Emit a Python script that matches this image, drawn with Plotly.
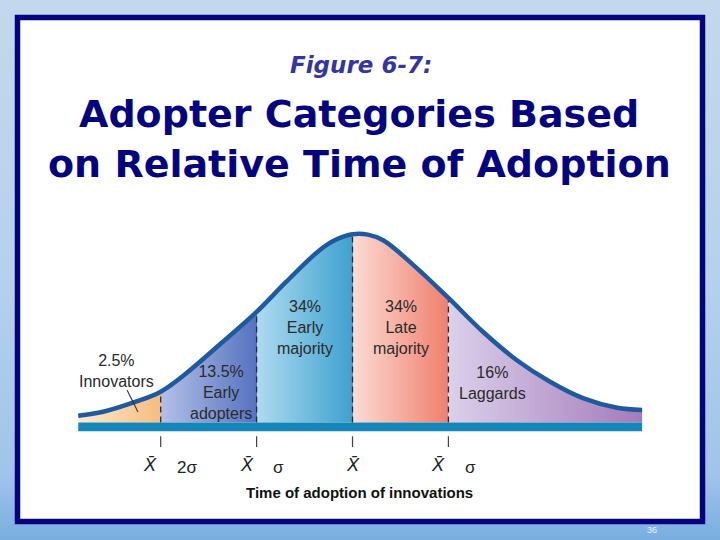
import plotly.graph_objects as go

# ---------------- data ----------------
categories = ["Innovators", "Early adopters", "Early majority", "Late majority", "Laggards"]
shares = ["2.5%", "13.5%", "34%", "34%", "16%"]
label_lines = [["Innovators"], ["Early", "adopters"], ["Early", "majority"], ["Late", "majority"], ["Laggards"]]
boundaries = [-2, -1, 0, 1]                       # in sigma units from the mean
# curve: position (sigma units) and relative height (peak = 100)
curve_z = [-2.86, -2.6, -2.26, -2.0, -1.73, -1.39, -1.0, -0.69, -0.34, -0.17, 0.0,
           0.16, 0.32, 0.67, 1.0, 1.36, 1.71, 2.06, 2.41, 2.76, 3.02]
curve_h = [3.6, 5.7, 11.0, 16.3, 26.2, 41.0, 58.5, 74.5, 91.3, 96.8, 99.6,
           99.4, 96.4, 81.7, 65.9, 48.0, 33.1, 21.6, 12.8, 7.8, 6.6]
xbar_labels = ["X\u0304", "X\u0304", "X\u0304", "X\u0304"]
sigma_labels = ["2\u03c3", "\u03c3", "", "\u03c3"]
title_small = "Figure 6-7:"
title_lines = ["Adopter Categories Based", "on Relative Time of Adoption"]
x_title = "Time of adoption of innovations"
page_no = "36"

# ---------------- styles ----------------
fill_left = ["#fde9cf", "#b4c0e8", "#aedbf0", "#fcdcd4", "#dcd0ea"]
fill_right = ["#f6bd7e", "#5672bf", "#3ea1cf", "#ef7f6e", "#a37bbb"]
curve_color = "#1f5aa0"
band_color = "#1486b8"
navy = "#04047f"
text_color = "#2a2a2a"

W, H = 720, 540
MEAN_PX, SIG_PX = 352.5, 95.9          # horizontal placement
BASE_PX, UNIT_PX = 422.5, 1.89         # vertical placement (from top)

fig = go.Figure()

# ---- slide background (axis x/y in pixel units) ----
fig.add_trace(go.Scatter(
    x=[0, W, W, 0, 0], y=[0, 0, H, H, 0], mode="lines", line=dict(width=0),
    fill="toself", hoverinfo="skip", showlegend=False,
    fillgradient=dict(type="vertical",
                      colorscale=[[0, "#79ade0"], [0.12, "#a0c4ea"], [0.5, "#b7d1ec"], [1, "#c3d8ec"]]),
    xaxis="x", yaxis="y"))
fig.add_trace(go.Scatter(
    x=[17.5, 702.5, 702.5, 17.5, 17.5], y=[17.5, 17.5, 521.5, 521.5, 17.5], mode="lines",
    line=dict(width=0), fill="toself", fillcolor="white", hoverinfo="skip",
    showlegend=False, xaxis="x", yaxis="y"))

# ---- curve fill with per-category gradients ----
zmin, zmax = curve_z[0], curve_z[-1]
edges = [zmin] + boundaries + [zmax]
cs = []
for i in range(len(categories)):
    p0 = (edges[i] - zmin) / (zmax - zmin)
    p1 = (edges[i + 1] - zmin) / (zmax - zmin)
    cs.append([p0, fill_left[i]])
    cs.append([p1, fill_right[i]])
cs[0][0] = 0.0
cs[-1][0] = 1.0

fig.add_trace(go.Scatter(
    x=curve_z, y=curve_h, mode="lines", line=dict(width=0, shape="spline"),
    fill="tozeroy", fillgradient=dict(type="horizontal", colorscale=cs),
    hoverinfo="skip", showlegend=False, xaxis="x2", yaxis="y2"))

# dashed separators
for b in boundaries:
    hb = curve_h[curve_z.index(float(b))]
    fig.add_trace(go.Scatter(
        x=[b, b], y=[0, hb - 1.5], mode="lines",
        line=dict(color="#2b2b2b", width=1.3, dash="6px,4px"),
        hoverinfo="skip", showlegend=False, xaxis="x2", yaxis="y2"))
    fig.add_trace(go.Scatter(
        x=[b, b], y=[-7.3, -13.0], mode="lines",
        line=dict(color="#444444", width=1.2),
        hoverinfo="skip", showlegend=False, xaxis="x2", yaxis="y2"))

# curve outline
fig.add_trace(go.Scatter(
    x=curve_z, y=curve_h, mode="lines", line=dict(color=curve_color, width=4.5, shape="spline"),
    hoverinfo="skip", showlegend=False, xaxis="x2", yaxis="y2"))

# innovators pointer
fig.add_trace(go.Scatter(
    x=[-2.351, -2.237], y=[17.2, 5.6], mode="lines", line=dict(color="#333333", width=1.1),
    hoverinfo="skip", showlegend=False, xaxis="x2", yaxis="y2"))

shapes = [
    dict(type="rect", xref="x2", yref="y2", x0=zmin, x1=zmax, y0=0, y1=-4.6,
         fillcolor=band_color, line=dict(width=0), layer="above"),
    dict(type="rect", xref="x", yref="y", x0=17.5, x1=702.5, y0=17.5, y1=521.5,
         line=dict(color=navy, width=5.5), fillcolor="rgba(0,0,0,0)", layer="above"),
]

def py(px):
    return 1 - px / H

ann = []
# titles
ann.append(dict(text="<b><i>" + title_small + "</i></b>", x=361 / W, y=py(65), xref="paper", yref="paper",
                showarrow=False, font=dict(family="DejaVu Sans", size=23, color="#3434a2"),
                xanchor="center", yanchor="middle"))
for i, t in enumerate(title_lines):
    ann.append(dict(text="<b>" + t + "</b>", x=359 / W, y=py(114 + 50 * i), xref="paper", yref="paper",
                    showarrow=False, font=dict(family="DejaVu Sans", size=38, color=navy),
                    xanchor="center", yanchor="middle"))

# category labels
label_pos = [(-2.456, 371), (-1.371, 392), (-0.495, 327), (0.506, 327), (1.465, 383)]
for i in range(len(categories)):
    txt = "<br>".join([shares[i]] + label_lines[i])
    ann.append(dict(text=txt, x=label_pos[i][0], y=py(label_pos[i][1]), xref="x2", yref="paper",
                    showarrow=False, font=dict(family="Liberation Sans", size=16, color=text_color),
                    xanchor="center", yanchor="middle"))

# axis labels
xbar_shift = [-11, -10, 0, -10]
sig_shift = [26, 22, 0, 22]
for i, b in enumerate(boundaries):
    ann.append(dict(text="<i>" + xbar_labels[i] + "</i>", x=b, y=py(465), xref="x2", yref="paper",
                    xshift=xbar_shift[i], showarrow=False,
                    font=dict(family="Liberation Sans", size=18, color="#222222"),
                    xanchor="center", yanchor="middle"))
    if sigma_labels[i]:
        ann.append(dict(text=sigma_labels[i], x=b, y=py(467), xref="x2", yref="paper",
                        xshift=sig_shift[i], showarrow=False,
                        font=dict(family="Liberation Sans", size=17, color="#222222"),
                        xanchor="center", yanchor="middle"))
ann.append(dict(text="<b>" + x_title + "</b>", x=359 / W, y=py(492), xref="paper", yref="paper",
                showarrow=False, font=dict(family="Liberation Sans", size=15, color="#111111"),
                xanchor="center", yanchor="middle"))
ann.append(dict(text=page_no, x=652 / W, y=py(530), xref="paper", yref="paper",
                showarrow=False, font=dict(family="Liberation Sans", size=9, color="#eef4fa"),
                xanchor="center", yanchor="middle"))

fig.update_layout(
    width=W, height=H, margin=dict(l=0, r=0, t=0, b=0),
    paper_bgcolor="#b8d2ec", plot_bgcolor="rgba(0,0,0,0)",
    xaxis=dict(domain=[0, 1], range=[0, W], visible=False, fixedrange=True),
    yaxis=dict(domain=[0, 1], range=[H, 0], visible=False, fixedrange=True),
    xaxis2=dict(domain=[0, 1], range=[-MEAN_PX / SIG_PX, (W - MEAN_PX) / SIG_PX],
                visible=False, fixedrange=True, anchor="y2"),
    yaxis2=dict(domain=[0, 1], range=[-(H - BASE_PX) / UNIT_PX, BASE_PX / UNIT_PX],
                visible=False, fixedrange=True, anchor="x2"),
    shapes=shapes, annotations=ann, showlegend=False,
)

fig.write_html("out.html", config={"displayModeBar": False},
               post_script="document.body.style.margin='0px';document.body.style.overflow='hidden';")
